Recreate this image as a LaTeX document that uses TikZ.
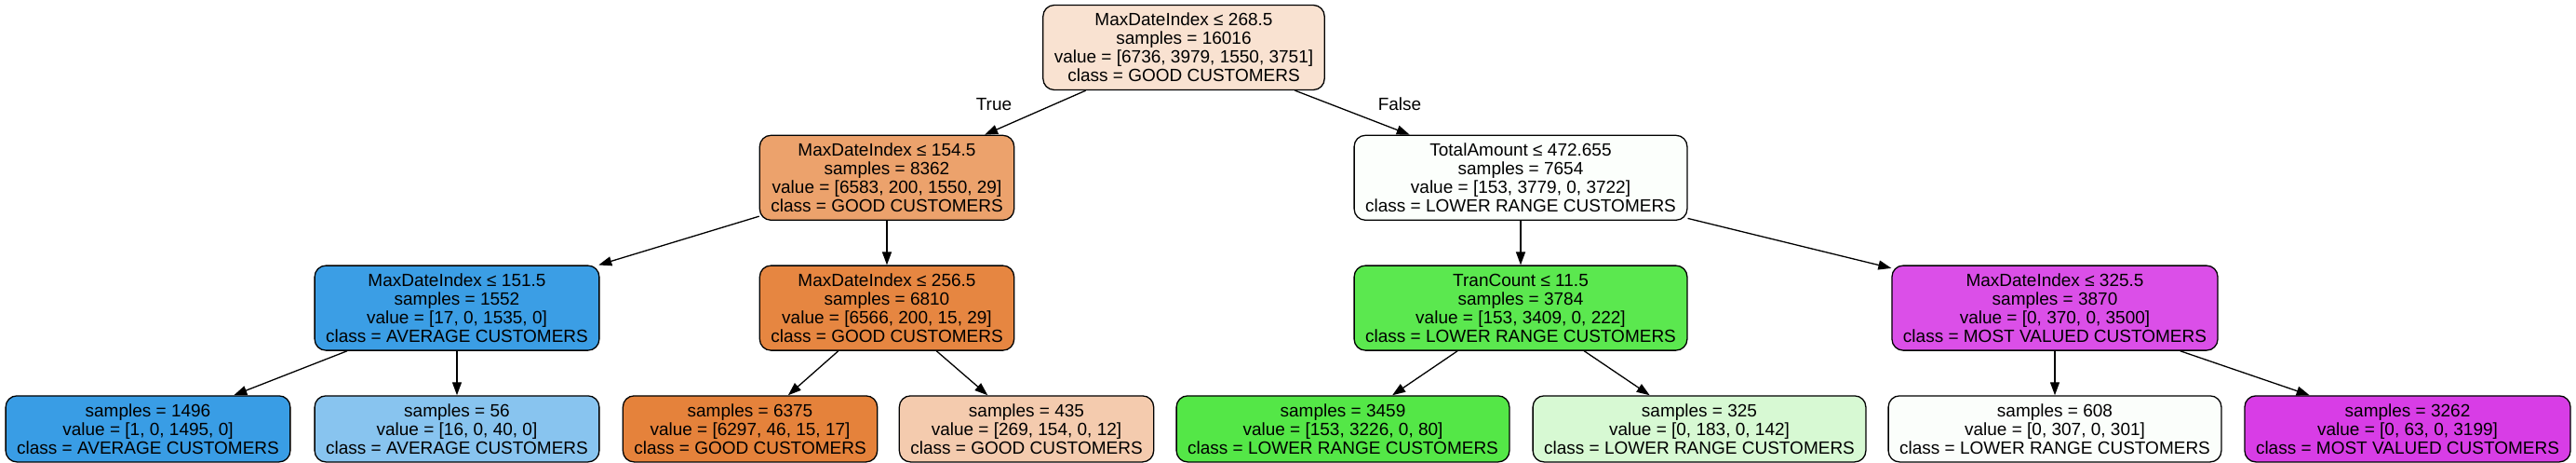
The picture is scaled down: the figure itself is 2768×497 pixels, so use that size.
\documentclass[tikz,border=0pt]{standalone}
\usepackage{fontspec}
\setmainfont{Liberation Sans}
\usetikzlibrary{arrows.meta,positioning}

\definecolor{goodc}{HTML}{E58139}
\definecolor{lowc}{HTML}{47E539}
\definecolor{avgc}{HTML}{399DE5}
\definecolor{mostc}{HTML}{D739E5}

\begin{document}
\begin{tikzpicture}[
        x=1pt, y=-1pt,
        node distance=47.5pt,
        >={Triangle[length=14pt,width=10pt]},
        every node/.style={font=\fontsize{19}{20}\selectfont, align=center},
        every path/.style={line width=1.3pt},
        box/.style={draw, rounded corners=12pt, inner xsep=12pt, inner ysep=4pt},
        split/.style={box, minimum height=91pt},
        leaf/.style={box, minimum height=71pt},
        tag/.style={inner sep=0pt}
    ]
    \useasboundingbox (0,0) rectangle (2768,497);

    % Nodes
    \node[split, fill=goodc!23, minimum width=302pt] (root) at (1272,51) {MaxDateIndex ≤ 268.5 \\ samples = 16016 \\ value = [6736, 3979, 1550, 3751] \\ class = GOOD CUSTOMERS};

    \node (dmiA)[below=of root, split, fill=goodc!74, xshift=-319pt] {MaxDateIndex ≤ 154.5 \\ samples = 8362 \\ value = [6583, 200, 1550, 29] \\ class = GOOD CUSTOMERS};
    \node (ta)[below=of root, split, fill=lowc!1.4, xshift=362pt] {TotalAmount ≤ 472.655 \\ samples = 7654 \\ value = [153, 3779, 0, 3722] \\ class = LOWER RANGE CUSTOMERS};

    \node (dmiB)[below=of dmiA, split, fill=avgc!99, xshift=-462pt] {MaxDateIndex ≤ 151.5 \\ samples = 1552 \\ value = [17, 0, 1535, 0] \\ class = AVERAGE CUSTOMERS};
    \node (dmiC)[below=of dmiA, split, fill=goodc!96] {MaxDateIndex ≤ 256.5 \\ samples = 6810 \\ value = [6566, 200, 15, 29] \\ class = GOOD CUSTOMERS};
    \node (tc)[below=of ta, split, fill=lowc!89] {TranCount ≤ 11.5 \\ samples = 3784 \\ value = [153, 3409, 0, 222] \\ class = LOWER RANGE CUSTOMERS};
    \node (dmiD)[below=of ta, split, fill=mostc!89, xshift=574pt] {MaxDateIndex ≤ 325.5 \\ samples = 3870 \\ value = [0, 370, 0, 3500] \\ class = MOST VALUED CUSTOMERS};

    \node (lfA)[below=of dmiB, leaf, fill=avgc, xshift=-332pt] {samples = 1496 \\ value = [1, 0, 1495, 0] \\ class = AVERAGE CUSTOMERS};
    \node (lfB)[below=of dmiB, leaf, fill=avgc!60] {samples = 56 \\ value = [16, 0, 40, 0] \\ class = AVERAGE CUSTOMERS};
    \node (lfC)[below=of dmiC, leaf, fill=goodc!99, xshift=-147pt] {samples = 6375 \\ value = [6297, 46, 15, 17] \\ class = GOOD CUSTOMERS};
    \node (lfD)[below=of dmiC, leaf, fill=goodc!41, xshift=150pt] {samples = 435 \\ value = [269, 154, 0, 12] \\ class = GOOD CUSTOMERS};
    \node (lfE)[below=of tc, leaf, fill=lowc!93, xshift=-191pt] {samples = 3459 \\ value = [153, 3226, 0, 80] \\ class = LOWER RANGE CUSTOMERS};
    \node (lfF)[below=of tc, leaf, fill=lowc!22, xshift=192pt] {samples = 325 \\ value = [0, 183, 0, 142] \\ class = LOWER RANGE CUSTOMERS};
    \node (lfG)[below=of dmiD, leaf, fill=lowc!2] {samples = 608 \\ value = [0, 307, 0, 301] \\ class = LOWER RANGE CUSTOMERS};
    \node (lfH)[below=of dmiD, leaf, fill=mostc!98, xshift=379pt] {samples = 3262 \\ value = [0, 63, 0, 3199] \\ class = MOST VALUED CUSTOMERS};

    % Edges
    \draw[->] (root) -- node[tag, pos=0.46, anchor=south east, xshift=-29pt] {True} (dmiA);
    \draw[->] (root) -- node[tag, pos=0.46, anchor=south west, xshift=32pt] {False} (ta);
    \draw[->] (dmiA) -- (dmiB);
    \draw[->] (dmiA) -- (dmiC);
    \draw[->] (ta) -- (tc);
    \draw[->] (ta) -- (dmiD);
    \draw[->] (dmiB) -- (lfA);
    \draw[->] (dmiB) -- (lfB);
    \draw[->] (dmiC) -- (lfC);
    \draw[->] (dmiC) -- (lfD);
    \draw[->] (tc) -- (lfE);
    \draw[->] (tc) -- (lfF);
    \draw[->] (dmiD) -- (lfG);
    \draw[->] (dmiD) -- (lfH);

\end{tikzpicture}
\end{document}
